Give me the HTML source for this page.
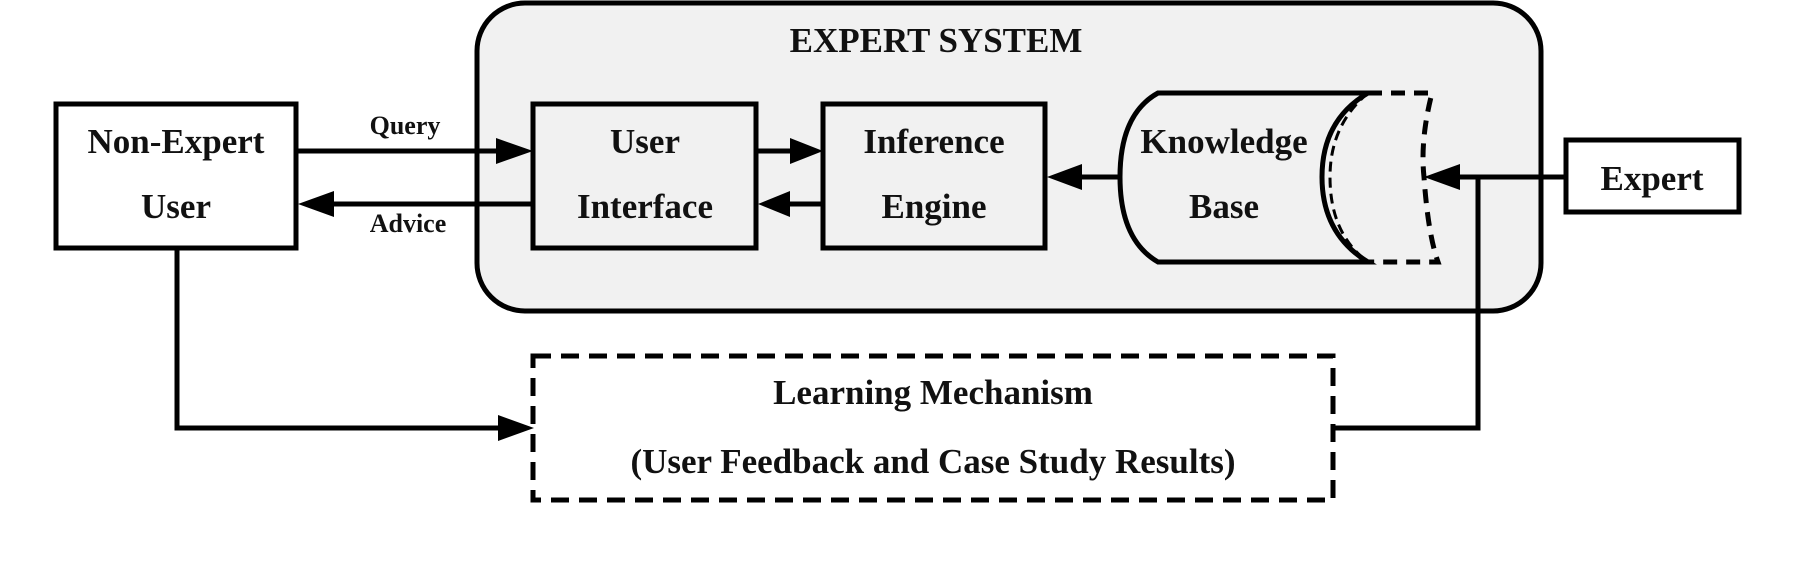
<!DOCTYPE html>
<html><head><meta charset="utf-8"><style>
html,body{margin:0;padding:0;background:#fff;}
svg text{font-family:"Liberation Serif",serif;font-weight:bold;fill:#111;}
</style></head><body>
<svg width="1794" height="582" viewBox="0 0 1794 582" xmlns="http://www.w3.org/2000/svg">
<rect x="477" y="3" width="1064" height="308" rx="48" fill="#f1f1f1" stroke="#000" stroke-width="5"/>
<text x="936" y="52" font-size="35" text-anchor="middle">EXPERT SYSTEM</text>
<g stroke="#000" stroke-width="5" fill="none">
<rect x="56" y="104" width="240" height="144" fill="#fff"/>
<rect x="533" y="104" width="223" height="144" fill="#f1f1f1"/>
<rect x="823" y="104" width="222" height="144" fill="#f1f1f1"/>
<rect x="1566" y="140" width="173" height="72" fill="#fff"/>
<path d="M1158 93 L1368 93 Q1322 120 1322 177 Q1322 234 1368 262 L1158 262 Q1120 240 1120 177 Q1120 114 1158 93 Z" fill="#f1f1f1"/>
<path d="M1368 93 L1432 93 Q1420 140 1424 177 Q1428 234 1438 262 L1368 262" stroke-dasharray="14 9"/>
<path d="M1368 93 Q1330 125 1330 177 Q1330 234 1368 262" stroke-width="3" stroke-dasharray="10 6"/>
<rect x="533" y="356" width="800" height="144" stroke-dasharray="18 10"/>
<line x1="296" y1="151" x2="500" y2="151"/>
<line x1="310" y1="204" x2="533" y2="204"/>
<line x1="756" y1="151" x2="790" y2="151"/>
<line x1="790" y1="204" x2="823" y2="204"/>
<line x1="1079" y1="177" x2="1120" y2="177"/>
<line x1="1458" y1="177" x2="1566" y2="177"/>
<polyline points="1478,177 1478,428 1333,428"/>
<polyline points="177,248 177,428 500,428"/>
</g>
<g fill="#000">
<polygon points="533,151 496,138 496,164"/>
<polygon points="298,204 334,191 334,217"/>
<polygon points="823,151 790,138 790,164"/>
<polygon points="758,204 790,191 790,217"/>
<polygon points="1047,177 1082,164 1082,190"/>
<polygon points="1424,177 1460,164 1460,190"/>
<polygon points="534,428 498,415 498,441"/>
</g>
<text x="176" y="153" font-size="35" text-anchor="middle">Non-Expert</text>
<text x="176" y="218" font-size="35" text-anchor="middle">User</text>
<text x="405" y="134" font-size="26" text-anchor="middle">Query</text>
<text x="408" y="232" font-size="26" text-anchor="middle">Advice</text>
<text x="645" y="153" font-size="35" text-anchor="middle">User</text>
<text x="645" y="218" font-size="35" text-anchor="middle">Interface</text>
<text x="934" y="153" font-size="35" text-anchor="middle">Inference</text>
<text x="934" y="218" font-size="35" text-anchor="middle">Engine</text>
<text x="1224" y="153" font-size="35" text-anchor="middle">Knowledge</text>
<text x="1224" y="218" font-size="35" text-anchor="middle">Base</text>
<text x="1652" y="190" font-size="35" text-anchor="middle">Expert</text>
<text x="933" y="404" font-size="35" text-anchor="middle">Learning Mechanism</text>
<text x="933" y="473" font-size="35" text-anchor="middle">(User Feedback and Case Study Results)</text>
</svg>
</body></html>
